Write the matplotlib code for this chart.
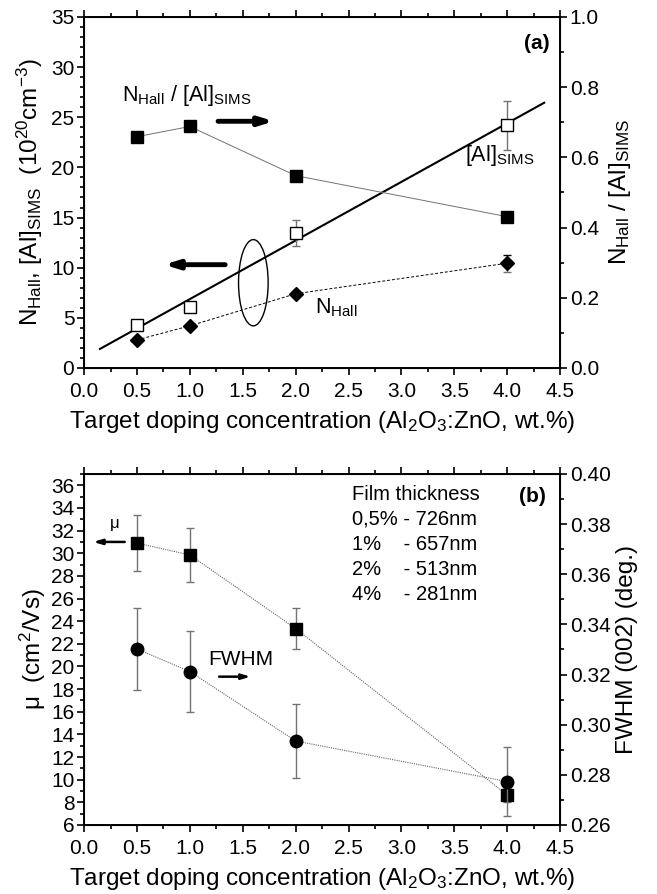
"""Two-panel figure: Hall carrier density / SIMS Al and mobility / FWHM vs target doping."""

import numpy as np
import matplotlib.pyplot as plt
from matplotlib.patches import Ellipse
from matplotlib.ticker import MultipleLocator, FormatStrFormatter

plt.rcParams['font.family'] = ['Liberation Sans', 'DejaVu Sans']
plt.rcParams['mathtext.fontset'] = 'custom'
plt.rcParams['mathtext.rm'] = 'Liberation Sans'
plt.rcParams['mathtext.it'] = 'Liberation Sans:italic'
plt.rcParams['mathtext.bf'] = 'Liberation Sans:bold'

# --- data ---
doping = [0.5, 1.0, 2.0, 4.0]

# panel (a)
al_sims = [4.3, 6.1, 13.5, 24.2]
al_sims_err = [0.3, 0.3, 1.3, 2.45]
n_hall = [2.8, 4.2, 7.4, 10.45]
n_hall_err = [0.0, 0.0, 0.0, 0.85]
ratio = [0.659, 0.688, 0.548, 0.431]
fit_x = [0.15, 4.35]
fit_y = [1.9, 26.45]

# panel (b)
mobility = [30.9, 29.85, 23.35, 8.65]
mobility_err = [2.45, 2.35, 1.85, 0.6]
fwhm = [0.3302, 0.3212, 0.2935, 0.2773]
fwhm_err = [0.0164, 0.016, 0.0148, 0.0137]

thickness_lines = ['Film thickness', '0,5% - 726nm', '1%    - 657nm',
                   '2%    - 513nm', '4%    - 281nm']

tick_fs = 15
label_fs = 17.5


def style_axis(a):
    a.tick_params(which='both', direction='out', labelsize=tick_fs, width=1.2,
                  top=True, pad=2)
    a.tick_params(axis='x', which='both', pad=5)
    a.tick_params(which='major', length=5)
    a.tick_params(which='minor', length=3)
    for s in a.spines.values():
        s.set_linewidth(1.4)


def style_right(a):
    a.tick_params(which='both', direction='out', labelsize=tick_fs, width=1.2,
                  pad=2)
    a.tick_params(which='major', length=5)
    a.tick_params(which='minor', length=3)


fig = plt.figure(figsize=(6.57, 8.94), dpi=100)

# ---------------- panel (a) ----------------
ax = fig.add_axes([0.128, 0.5884, 0.7245, 0.3926])
ax2 = ax.twinx()

ax.plot(fit_x, fit_y, c='k', lw=1.5, zorder=3)
ax.errorbar(doping, al_sims, yerr=al_sims_err, fmt='s', mfc='white', mec='k',
            ms=8, mew=1.0, ecolor='0.45', elinewidth=1, capsize=3, zorder=4)
ax.errorbar(doping, n_hall, yerr=n_hall_err, fmt='D', color='k', ms=7.5,
            ls=(0, (3, 2)), lw=0.7, ecolor='0.45', elinewidth=1, capsize=3,
            zorder=4)
ax.lines[-1].set_color('0.35')
ax.lines[-1].set_markerfacecolor('k')
ax.lines[-1].set_markeredgecolor('k')
ax2.plot(doping, ratio, 's-', color='0.45', ms=8, lw=0.7, mfc='k', mec='k')

ax.add_patch(Ellipse((1.6, 8.5), 0.28, 8.6, fill=False, ec='k', lw=1.0))
ax.annotate('', xy=(0.73, 10.3), xytext=(1.36, 10.3),
            arrowprops=dict(arrowstyle='-|>,head_length=0.8,head_width=0.25',
                            color='k', lw=3.5))
ax.annotate('', xy=(1.82, 24.6), xytext=(1.24, 24.6),
            arrowprops=dict(arrowstyle='-|>,head_length=0.8,head_width=0.25',
                            color='k', lw=3.5))

ax.text(0.97, 27.2, r'N$_{\rm Hall}$ / [Al]$_{\rm SIMS}$', fontsize=15.5,
        ha='center', va='center')
ax.text(3.6, 21.2, r'[Al]$_{\rm SIMS}$', fontsize=15.5, ha='left',
        va='center')
ax.text(2.18, 6.0, r'N$_{\rm Hall}$', fontsize=15.5, ha='left', va='center')
ax.text(4.28, 32.4, '(a)', fontsize=15, fontweight='bold', ha='center',
        va='center')

ax.set_xlim(0, 4.5)
ax.set_ylim(0, 35)
ax2.set_ylim(0, 1.0)
ax.xaxis.set_major_locator(MultipleLocator(0.5))
ax.xaxis.set_minor_locator(MultipleLocator(0.25))
ax.xaxis.set_major_formatter(FormatStrFormatter('%.1f'))
ax.yaxis.set_major_locator(MultipleLocator(5))
ax.yaxis.set_minor_locator(MultipleLocator(1))
ax2.yaxis.set_major_locator(MultipleLocator(0.2))
ax2.yaxis.set_minor_locator(MultipleLocator(0.1))
ax2.yaxis.set_major_formatter(FormatStrFormatter('%.1f'))
style_axis(ax)
style_right(ax2)
ax.set_xlabel(r'Target doping concentration (Al$_2$O$_3$:ZnO, wt.%)',
              fontsize=label_fs, labelpad=6)
ax.set_ylabel(r'N$_{\rm Hall}$, [Al]$_{\rm SIMS}$  (10$^{20}$cm$^{-3}$)',
              fontsize=label_fs, labelpad=4)
ax2.set_ylabel(r'N$_{\rm Hall}$ / [Al]$_{\rm SIMS}$', fontsize=label_fs,
               labelpad=6)

# ---------------- panel (b) ----------------
bx = fig.add_axes([0.128, 0.0772, 0.7245, 0.3926])
bx2 = bx.twinx()

bx.errorbar(doping, mobility, yerr=mobility_err, fmt='s', color='k', ms=8,
            ls=(0, (1, 1)), lw=0.8, ecolor='0.45', elinewidth=1, capsize=3,
            zorder=4)
bx2.errorbar(doping, fwhm, yerr=fwhm_err, fmt='o', color='k', ms=9,
             ls=(0, (1, 1)), lw=0.8, ecolor='0.45', elinewidth=1, capsize=3,
             zorder=4)
for a in (bx, bx2):
    a.lines[0].set_color('0.4')
    a.lines[0].set_markerfacecolor('k')
    a.lines[0].set_markeredgecolor('k')

bx.annotate('', xy=(0.06, 31.0), xytext=(0.41, 31.0),
            arrowprops=dict(arrowstyle='-|>,head_length=0.5,head_width=0.15',
                            color='k', lw=1.8))
bx.annotate('', xy=(1.6, 19.1), xytext=(1.25, 19.1),
            arrowprops=dict(arrowstyle='-|>,head_length=0.5,head_width=0.15',
                            color='k', lw=1.8))
bx.text(0.29, 32.6, 'μ', fontsize=12, ha='center', va='center')
bx.text(1.17, 20.6, 'FWHM', fontsize=15, ha='left', va='center')
for i, line in enumerate(thickness_lines):
    bx.text(2.53, 35.2 - 2.2 * i, line, fontsize=14.5, ha='left',
            va='center')
bx.text(4.24, 35.0, '(b)', fontsize=15, fontweight='bold', ha='center',
        va='center')

bx.set_xlim(0, 4.5)
bx.set_ylim(6, 37)
bx2.set_ylim(0.26, 0.40)
bx.xaxis.set_major_locator(MultipleLocator(0.5))
bx.xaxis.set_minor_locator(MultipleLocator(0.25))
bx.xaxis.set_major_formatter(FormatStrFormatter('%.1f'))
bx.yaxis.set_major_locator(MultipleLocator(2))
bx.yaxis.set_minor_locator(MultipleLocator(1))
bx2.yaxis.set_major_locator(MultipleLocator(0.02))
bx2.yaxis.set_minor_locator(MultipleLocator(0.01))
bx2.yaxis.set_major_formatter(FormatStrFormatter('%.2f'))
style_axis(bx)
style_right(bx2)
bx.set_xlabel(r'Target doping concentration (Al$_2$O$_3$:ZnO, wt.%)',
              fontsize=label_fs, labelpad=6)
bx.set_ylabel(r'μ  (cm$^2$/Vs)', fontsize=label_fs, labelpad=2)
bx2.set_ylabel('FWHM (002) (deg.)', fontsize=label_fs, labelpad=4)

fig.savefig('out.png', dpi=100, facecolor='w')
